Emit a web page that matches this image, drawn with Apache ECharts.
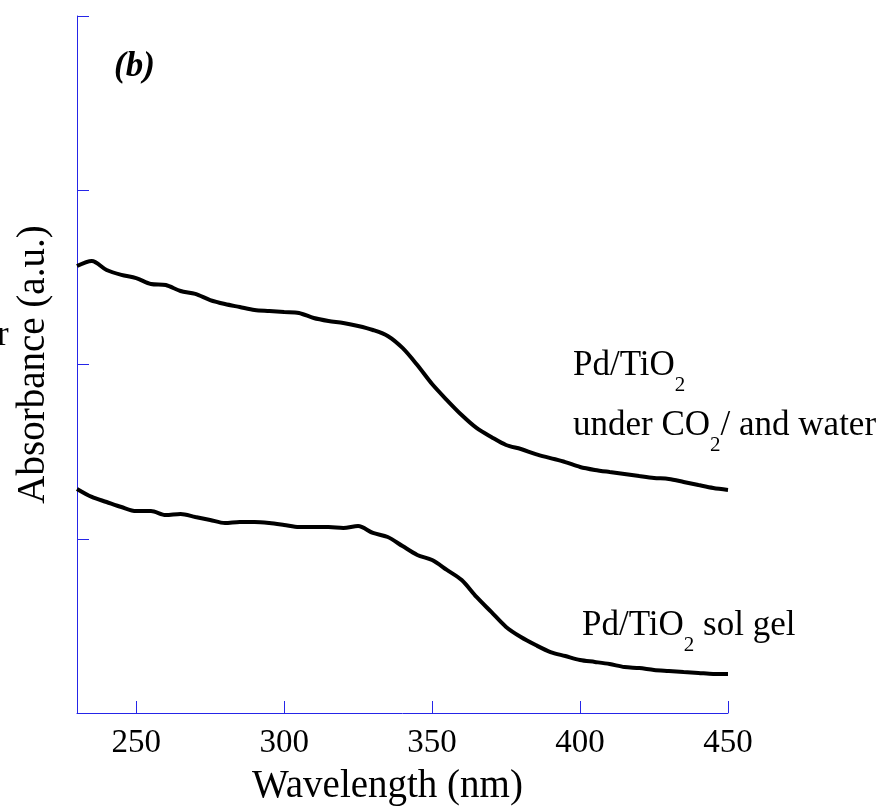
<!DOCTYPE html>
<html lang="en">
<head>
    <meta charset="UTF-8">
    <title>Absorbance spectra</title>
    <script src="https://cdn.jsdelivr.net/npm/echarts@6/dist/echarts.min.js"></script>
    <style>
        html, body {
            margin: 0;
            padding: 0;
            background: #fff;
        }
        #main {
            width: 886px;
            height: 812px;
        }
    </style>
</head>
<body>
<div id="main"></div>
<script>
    // wavelength (nm), read every 5 nm off the figure
    var wavelengths = [230, 235, 240, 245, 250, 255, 260, 265, 270, 275, 280, 285, 290, 295, 300,
        305, 310, 315, 320, 325, 330, 335, 340, 345, 350, 355, 360, 365, 370, 375,
        380, 385, 390, 395, 400, 405, 410, 415, 420, 425, 430, 435, 440, 445, 450];

    // Pd/TiO2 under CO2 / and water (upper curve), a.u.
    var underCo2 = [2.565, 2.594, 2.542, 2.514, 2.496, 2.462, 2.456, 2.422, 2.405, 2.370, 2.347, 2.330, 2.313, 2.307, 2.301,
        2.296, 2.267, 2.250, 2.238, 2.221, 2.198, 2.164, 2.095, 1.997, 1.888, 1.796, 1.710, 1.636, 1.584, 1.538,
        1.515, 1.486, 1.463, 1.440, 1.412, 1.395, 1.383, 1.372, 1.360, 1.349, 1.343, 1.326, 1.308, 1.291, 1.280];

    // Pd/TiO2 sol gel (lower curve), a.u.
    var solGel = [1.286, 1.240, 1.211, 1.182, 1.159, 1.159, 1.136, 1.142, 1.125, 1.108, 1.090, 1.096, 1.096, 1.090, 1.079,
        1.067, 1.067, 1.067, 1.062, 1.073, 1.033, 1.010, 0.958, 0.907, 0.878, 0.821, 0.763, 0.666, 0.580, 0.494,
        0.436, 0.390, 0.350, 0.327, 0.304, 0.293, 0.281, 0.264, 0.258, 0.247, 0.241, 0.235, 0.230, 0.224, 0.224];

    var xRange = [230, 450];
    var yRange = [0, 4];

    var serif = "'Liberation Serif', 'Times New Roman', serif";
    var axisBlue = '#2525e8';

    function pairs(vals) {
        return wavelengths.map(function (w, i) {
            return [w, vals[i]];
        });
    }

    var chart = echarts.init(document.getElementById('main'), null, {renderer: 'canvas'});

    var rich = {
        main: {fontFamily: serif, fontSize: 35, lineHeight: 60, color: '#000'},
        sub: {fontFamily: serif, fontSize: 21, lineHeight: 17, verticalAlign: 'bottom', color: '#000'}
    };

    var option = {
        backgroundColor: '#fff',
        animation: false,
        grid: {left: 77, right: 158, top: 16, bottom: 99},
        xAxis: {
            type: 'value',
            min: xRange[0],
            max: xRange[1],
            name: 'Wavelength (nm)',
            nameLocation: 'middle',
            nameGap: 54,
            nameTextStyle: {fontFamily: serif, fontSize: 39, color: '#000', padding: [0, 30, 0, 0]},
            axisLine: {show: true, lineStyle: {color: axisBlue, width: 1}},
            axisTick: {show: true, inside: true, length: 12, lineStyle: {color: axisBlue}},
            axisLabel: {fontFamily: serif, fontSize: 33, color: '#000', margin: 14, showMinLabel: false},
            splitLine: {show: false}
        },
        yAxis: {
            type: 'value',
            min: yRange[0],
            max: yRange[1],
            interval: 1,
            name: 'Absorbance (a.u.)',
            nameLocation: 'middle',
            nameGap: 24,
            nameTextStyle: {fontFamily: serif, fontSize: 39, color: '#000'},
            axisLine: {show: true, lineStyle: {color: axisBlue, width: 1}},
            axisTick: {show: true, inside: true, length: 12, lineStyle: {color: axisBlue}},
            axisLabel: {show: false},
            splitLine: {show: false}
        },
        series: [
            {
                name: 'Pd/TiO2 under CO2 / and water',
                type: 'line',
                data: pairs(underCo2),
                showSymbol: false,
                smooth: 0.3,
                lineStyle: {color: '#000', width: 4}
            },
            {
                name: 'Pd/TiO2 sol gel',
                type: 'line',
                data: pairs(solGel),
                showSymbol: false,
                smooth: 0.3,
                lineStyle: {color: '#000', width: 4}
            }
        ],
        graphic: [
            {
                type: 'text', x: 114, y: 67,
                style: {text: '(b)', font: 'italic bold 35px ' + serif, fill: '#000', verticalAlign: 'middle'}
            },
            {
                type: 'text', x: 573, y: 336,
                style: {
                    text: '{main|Pd/TiO}{sub|2}\n{main|under CO}{sub|2}{main|/ and water}',
                    rich: rich, verticalAlign: 'top', align: 'left'
                }
            },
            {
                type: 'text', x: 582, y: 596,
                style: {
                    text: '{main|Pd/TiO}{sub|2}{main| sol gel}',
                    rich: rich, verticalAlign: 'top', align: 'left'
                }
            },
            {
                // cut-off letter from the neighbouring panel
                type: 'text', x: -3, y: 336,
                style: {text: 'r', font: '35px ' + serif, fill: '#000', verticalAlign: 'middle'}
            }
        ]
    };

    chart.setOption(option);
</script>
</body>
</html>
